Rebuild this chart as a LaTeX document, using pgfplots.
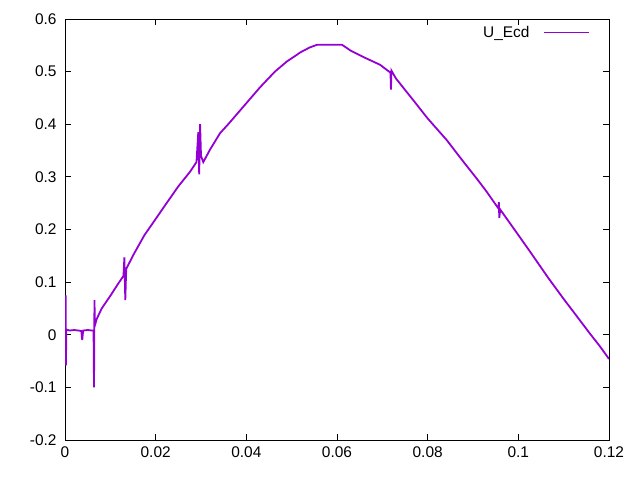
\documentclass[border=0pt]{standalone}
\usepackage{pgfplots}
\pgfplotsset{compat=1.18}
\usepackage{fontspec}
\setmainfont{Liberation Sans}
\definecolor{gpviolet}{RGB}{148,0,211}

\begin{document}
\begin{tikzpicture}[font=\fontsize{15.5}{18}\selectfont]
\path[use as bounding box] (0,0) rectangle (640bp,480bp);
\begin{axis}[
  at={(65bp,40bp)}, anchor=south west,
  scale only axis,
  width=544bp, height=421bp,
  xmin=0, xmax=0.12,
  ymin=-0.2, ymax=0.6,
  xtick={0,0.02,0.04,0.06,0.08,0.1,0.12},
  ytick={-0.2,-0.1,0,0.1,0.2,0.3,0.4,0.5,0.6},
  scaled x ticks=false, scaled y ticks=false,
  xticklabel={\pgfmathprintnumber[fixed,precision=2,assume math mode=true]{\tick}},
  yticklabel={\pgfmathprintnumber[fixed,precision=1,assume math mode=true]{\tick}},
  tick align=inside,
  major tick length=6bp,
  tick style={black, line width=0.8bp},
  axis line style={line width=0.8bp},
  xtick pos=both, ytick pos=both,
  xticklabel style={yshift=-3bp},
  yticklabel style={xshift=-5bp},
  legend plot pos=right,
  legend cell align=right,
  legend style={draw=none, fill=none, at={(rel axis cs:0.97,0.992)}, anchor=north east,
    /tikz/column sep=12bp, font=\fontsize{15.5}{18}\selectfont},
  legend image code/.code={\draw[#1, line width=1bp] (0bp,0bp) -- (45bp,0bp);},
]
\addplot[gpviolet, line width=1.8bp] table {
0.00015 0.075
0.00020 -0.058
0.00030 0.010
0.00100 0.008
0.00200 0.009
0.00300 0.008
0.00360 0.007
0.00380 -0.010
0.00400 0.008
0.00500 0.009
0.00600 0.008
0.00630 0.008
0.00640 -0.100
0.00650 0.066
0.00660 0.018
0.00700 0.030
0.00810 0.050
0.01000 0.074
0.01150 0.094
0.01290 0.112
0.01310 0.147
0.01330 0.066
0.01350 0.125
0.01510 0.152
0.01750 0.189
0.02000 0.220
0.02240 0.250
0.02500 0.282
0.02760 0.310
0.02900 0.328
0.02940 0.385
0.02960 0.305
0.02980 0.400
0.03000 0.340
0.03050 0.328
0.03200 0.352
0.03420 0.383
0.03600 0.400
0.03800 0.420
0.04000 0.440
0.04300 0.470
0.04630 0.500
0.04890 0.519
0.05200 0.537
0.05400 0.546
0.05560 0.551
0.06110 0.551
0.06300 0.540
0.06600 0.527
0.06950 0.513
0.07180 0.498
0.07190 0.466
0.07200 0.502
0.07300 0.487
0.07680 0.446
0.08000 0.411
0.08420 0.370
0.08750 0.333
0.09080 0.297
0.09300 0.272
0.09560 0.240
0.09570 0.252
0.09580 0.222
0.09600 0.238
0.09930 0.198
0.10250 0.159
0.10660 0.108
0.11000 0.068
0.11300 0.034
0.11590 0.001
0.11800 -0.022
0.12000 -0.046
};
\addlegendentry{U\_Ecd}
\end{axis}
\end{tikzpicture}
\end{document}
